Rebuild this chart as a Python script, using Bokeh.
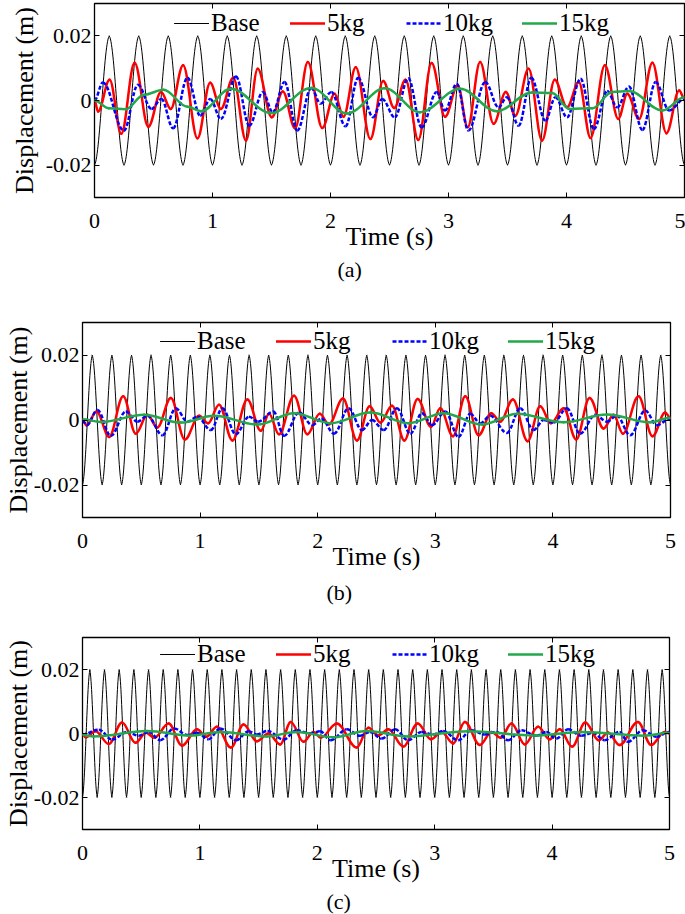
import numpy as np
from bokeh.plotting import figure
from bokeh.models import (Range1d, FixedTicker, LinearAxis, Legend, LegendItem,
                          Title, ColumnDataSource)
from bokeh.embed import file_html
from bokeh.resources import INLINE

FONT = "Liberation Serif"

# ---------------- data (extrema) ----------------
x_ticks = [0, 1, 2, 3, 4, 5]
y_ticks = [-0.02, 0.0, 0.02]
y_tick_labels = {-0.02: "-0.02", 0.0: "0", 0.02: "0.02"}
series_names = ["Base", "5kg", "10kg", "15kg"]
captions = ["(a)", "(b)", "(c)"]

# base excitation extrema (s, m)
base_a_t = [0.0, 0.125, 0.25, 0.375, 0.5, 0.625, 0.75, 0.875,
            1.0, 1.125, 1.25, 1.375, 1.5, 1.625, 1.75, 1.875,
            2.0, 2.125, 2.25, 2.375, 2.5, 2.625, 2.75, 2.875,
            3.0, 3.125, 3.25, 3.375, 3.5, 3.625, 3.75, 3.875,
            4.0, 4.125, 4.25, 4.375, 4.5, 4.625, 4.75, 4.875, 5.0]
base_a_y = [-0.02, 0.02] * 20 + [-0.02]

base_b_t = [0.0, 0.083, 0.167, 0.25, 0.333, 0.417, 0.5, 0.583, 0.667, 0.75, 0.833, 0.917,
            1.0, 1.083, 1.167, 1.25, 1.333, 1.417, 1.5, 1.583, 1.667, 1.75, 1.833, 1.917,
            2.0, 2.083, 2.167, 2.25, 2.333, 2.417, 2.5, 2.583, 2.667, 2.75, 2.833, 2.917,
            3.0, 3.083, 3.167, 3.25, 3.333, 3.417, 3.5, 3.583, 3.667, 3.75, 3.833, 3.917,
            4.0, 4.083, 4.167, 4.25, 4.333, 4.417, 4.5, 4.583, 4.667, 4.75, 4.833, 4.917,
            5.0]
base_b_y = [-0.02, 0.02] * 30 + [-0.02]

base_c_t = [0.0, 0.0625, 0.125, 0.1875, 0.25, 0.3125, 0.375, 0.4375,
            0.5, 0.5625, 0.625, 0.6875, 0.75, 0.8125, 0.875, 0.9375,
            1.0, 1.0625, 1.125, 1.1875, 1.25, 1.3125, 1.375, 1.4375,
            1.5, 1.5625, 1.625, 1.6875, 1.75, 1.8125, 1.875, 1.9375,
            2.0, 2.0625, 2.125, 2.1875, 2.25, 2.3125, 2.375, 2.4375,
            2.5, 2.5625, 2.625, 2.6875, 2.75, 2.8125, 2.875, 2.9375,
            3.0, 3.0625, 3.125, 3.1875, 3.25, 3.3125, 3.375, 3.4375,
            3.5, 3.5625, 3.625, 3.6875, 3.75, 3.8125, 3.875, 3.9375,
            4.0, 4.0625, 4.125, 4.1875, 4.25, 4.3125, 4.375, 4.4375,
            4.5, 4.5625, 4.625, 4.6875, 4.75, 4.8125, 4.875, 4.9375, 5.0]
base_c_y = [-0.02, 0.02] * 40 + [-0.02]

# panel (a)
red_a_t = [0.0, 0.03, 0.128, 0.227, 0.34, 0.456, 0.564, 0.646, 0.751, 0.873, 0.98, 1.071,
           1.176, 1.284, 1.383, 1.502, 1.596, 1.70, 1.808, 1.93, 2.035, 2.11, 2.214, 2.338,
           2.446, 2.54, 2.636, 2.744, 2.857, 2.971, 3.078, 3.163, 3.268, 3.382, 3.486, 3.566,
           3.679, 3.793, 3.9, 4.005, 4.104, 4.204, 4.325, 4.439, 4.515, 4.615, 4.728, 4.847,
           4.955, 5.0]
red_a_y = [0.0, -0.0034, 0.0064, -0.0103, 0.0117, -0.0081, 0.0026, -0.0026, 0.0109, -0.0117,
           0.0055, -0.0026, 0.007, -0.0124, 0.0098, -0.0052, 0.0028, -0.0086, 0.0119, -0.0085,
           0.0021, -0.005, 0.0103, -0.0119, 0.006, -0.0023, 0.0064, -0.0122, 0.0116, -0.005,
           0.0047, -0.0083, 0.0119, -0.0072, 0.0026, -0.0047, 0.0098, -0.0124, 0.0064, -0.0021,
           0.0057, -0.0116, 0.0109, -0.0057, 0.0021, -0.0057, 0.0117, -0.0101, 0.0031, 0.0005]
blue_a_t = [0.0, 0.071, 0.249, 0.368, 0.482, 0.567, 0.666, 0.788, 0.896, 0.981, 1.071, 1.199,
            1.312, 1.426, 1.511, 1.61, 1.718, 1.837, 1.916, 2.007, 2.128, 2.234, 2.361, 2.438,
            2.545, 2.659, 2.772, 2.9, 2.97, 3.07, 3.169, 3.311, 3.424, 3.495, 3.594, 3.702,
            3.821, 3.906, 4.005, 4.119, 4.232, 4.345, 4.43, 4.529, 4.643, 4.756, 4.87, 5.0]
blue_a_y = [0.0, 0.0056, -0.0093, 0.0049, -0.0026, 0.0005, -0.0086, 0.007, -0.0047, 0.0005,
            -0.0057, 0.0074, -0.0078, 0.0026, -0.0036, 0.0057, -0.0093, 0.0039, -0.001, 0.0026,
            -0.008, 0.007, -0.0052, 0.0005, -0.0052, 0.0069, -0.0083, 0.0026, -0.0031, 0.0052,
            -0.0093, 0.0057, -0.0021, 0.001, -0.0078, 0.007, -0.0062, 0.001, -0.0052, 0.0067,
            -0.0088, 0.0029, -0.0021, 0.0043, -0.0091, 0.0057, -0.0031, 0.0005]
green_a_t = [0.0, 0.122, 0.264, 0.42, 0.584, 0.788, 0.901, 1.156, 1.497, 1.837, 2.14, 2.46,
             2.758, 3.098, 3.41, 3.708, 3.878, 4.025, 4.218, 4.388, 4.53, 4.813, 5.0]
green_a_y = [0.0, -0.0024, -0.0027, 0.0018, 0.0033, -0.0019, -0.0033, 0.0036, -0.0039, 0.0039,
             -0.004, 0.0038, -0.0036, 0.0036, -0.0033, 0.0025, 0.0023, -0.0026, -0.0024, 0.0026,
             0.0029, -0.0031, 0.001]

# panel (b)
red_b_t = [0.0, 0.034, 0.119, 0.227, 0.346, 0.453, 0.552, 0.637, 0.751, 0.87, 0.992, 1.068,
           1.161, 1.275, 1.402, 1.516, 1.586, 1.671, 1.799, 1.912, 2.017, 2.096, 2.215, 2.334,
           2.442, 2.533, 2.632, 2.737, 2.85, 2.963, 3.042, 3.15, 3.255, 3.368, 3.476, 3.552,
           3.66, 3.785, 3.892, 3.983, 4.091, 4.198, 4.312, 4.431, 4.516, 4.595, 4.728, 4.847,
           4.955, 5.0]
red_b_y = [0.0, -0.0016, 0.0026, -0.0052, 0.0073, -0.0042, 0.0016, -0.0023, 0.0068, -0.006,
           0.0013, -0.001, 0.0047, -0.0063, 0.0063, -0.0033, 0.0019, -0.0044, 0.0075, -0.0044,
           0.0019, -0.0013, 0.0066, -0.0063, 0.0042, -0.0008, 0.0044, -0.0063, 0.0065, -0.0021,
           0.0036, -0.005, 0.0073, -0.0047, 0.0021, -0.0005, 0.0063, -0.0065, 0.0042, -0.001,
           0.0036, -0.006, 0.0068, -0.0026, 0.0016, -0.0042, 0.0073, -0.005, 0.0023, 0.0005]
blue_b_t = [0.0, 0.037, 0.127, 0.241, 0.368, 0.467, 0.552, 0.68, 0.793, 0.892, 0.977, 1.091,
            1.19, 1.303, 1.416, 1.493, 1.623, 1.714, 1.841, 1.955, 2.031, 2.139, 2.263, 2.377,
            2.462, 2.561, 2.674, 2.788, 2.887, 2.972, 3.085, 3.198, 3.297, 3.382, 3.467, 3.609,
            3.722, 3.836, 3.921, 4.006, 4.119, 4.232, 4.36, 4.459, 4.544, 4.657, 4.785, 4.884,
            5.0]
blue_b_y = [-0.0002, -0.0016, 0.0031, -0.0049, 0.0026, -0.0005, 0.0013, -0.0047, 0.0036,
            -0.0005, 0.001, -0.0031, 0.0036, -0.0044, 0.001, -0.0005, 0.0026, -0.0049, 0.0023,
            -0.0016, 0.0005, -0.0042, 0.0036, -0.0031, 0.0, -0.0031, 0.0036, -0.0042, 0.0021,
            -0.0016, 0.0026, -0.0052, 0.0019, -0.001, 0.0013, -0.004, 0.0036, -0.0031, 0.0,
            -0.0008, 0.0036, -0.0042, 0.0016, -0.0005, 0.0013, -0.0047, 0.0029, -0.0016, 0.0005]
green_b_t = [0.0, 0.156, 0.524, 0.836, 1.119, 1.487, 1.799, 2.11, 2.448, 2.773, 3.071, 3.397,
             3.694, 4.091, 4.459, 4.827, 5.0]
green_b_y = [0.0002, -0.0006, 0.0016, -0.0008, 0.0013, -0.0014, 0.0021, -0.001, 0.0023, -0.001,
             0.0021, -0.0014, 0.0019, -0.0007, 0.0017, -0.0007, 0.0007]

# panel (c)
red_c_t = [0.0, 0.026, 0.111, 0.224, 0.337, 0.451, 0.541, 0.612, 0.734, 0.848, 0.975, 1.054,
           1.145, 1.264, 1.372, 1.485, 1.584, 1.684, 1.774, 1.882, 1.967, 2.029, 2.166, 2.336,
           2.435, 2.52, 2.605, 2.733, 2.855, 2.968, 3.059, 3.158, 3.257, 3.385, 3.484, 3.563,
           3.654, 3.768, 3.881, 3.98, 4.065, 4.17, 4.283, 4.397, 4.476, 4.575, 4.731, 4.844,
           4.958, 5.0]
red_c_y = [-0.0003, -0.0012, 0.0007, -0.0033, 0.0034, -0.0029, 0.0002, -0.0013, 0.0031, -0.0038,
           0.0013, -0.001, 0.0021, -0.0044, 0.0028, -0.0024, 0.0, -0.0034, 0.0036, -0.0026,
           0.0005, -0.0013, 0.0031, -0.0044, 0.0018, -0.0006, 0.0013, -0.0041, 0.0031, -0.0018,
           0.0005, -0.0031, 0.0036, -0.0036, 0.0005, -0.0013, 0.0031, -0.0034, 0.0021, -0.0018,
           0.0013, -0.0041, 0.0034, -0.0021, 0.0003, -0.0036, 0.0036, -0.0036, 0.0005, 0.0]
blue_c_t = [0.0, 0.139, 0.252, 0.38, 0.479, 0.564, 0.663, 0.782, 0.89, 0.975, 1.074, 1.173,
            1.31, 1.414, 1.485, 1.576, 1.712, 1.825, 1.939, 2.024, 2.115, 2.25, 2.364, 2.449,
            2.548, 2.662, 2.775, 2.888, 2.987, 3.072, 3.2, 3.313, 3.427, 3.526, 3.625, 3.739,
            3.866, 3.951, 4.037, 4.136, 4.249, 4.348, 4.447, 4.575, 4.646, 4.773, 4.887, 5.0]
blue_c_y = [-0.0003, 0.0012, -0.0019, 0.0005, -0.0007, 0.0005, -0.0021, 0.0016, -0.0005, 0.0002,
            -0.0018, 0.0016, -0.0021, 0.0007, -0.0003, 0.0008, -0.0019, 0.001, 0.0, 0.0007,
            -0.0021, 0.0013, -0.0007, 0.0005, -0.0016, 0.0013, -0.0021, 0.0005, -0.0003, 0.0008,
            -0.0021, 0.001, -0.0003, 0.0005, -0.0021, 0.001, -0.0007, 0.0005, -0.0016, 0.0013,
            -0.0007, 0.0002, -0.0021, 0.0005, -0.0026, 0.001, -0.001, 0.0005]
green_c_t = [0.0, 0.096, 0.55, 0.918, 1.173, 1.57, 1.825, 2.137, 2.42, 2.775, 3.285, 3.852,
             4.249, 4.787, 5.0]
green_c_y = [-0.0005, -0.0009, 0.0008, -0.0007, 0.0005, -0.0009, 0.0005, -0.0012, 0.0008,
             -0.0009, 0.0007, -0.0006, 0.0005, -0.0007, 0.0002]

# ---------------- styling ----------------
STYLES = [  # color, width, dash, cap
    ("#000000", 1.0, "solid", "round"),
    ("#ff0000", 2.5, "solid", "round"),
    ("#0000ff", 2.5, "4 2", "butt"),
    ("#22a84b", 2.5, "solid", "round"),
]


def curve_source(t, y):
    """Smooth curve through extrema: cubic Bezier segments with flat tangents."""
    t = np.asarray(t, float)
    y = np.asarray(y, float)
    d = np.diff(t) * 0.36
    return ColumnDataSource(dict(x0=t[:-1], y0=y[:-1], x1=t[1:], y1=y[1:],
                                 cx0=t[:-1] + d, cy0=y[:-1], cx1=t[1:] - d, cy1=y[1:]))


def make_panel(height, b_top, b_bottom, b_left, b_right, ylab_standoff, caption, cap_offset,
               cap_standoff, data, leg_xy):
    p = figure(width=685, height=height, x_range=Range1d(0, 5), y_range=Range1d(-0.03, 0.03),
               output_backend="svg", toolbar_location=None, title=None,
               min_border_top=b_top, min_border_bottom=b_bottom,
               min_border_left=b_left, min_border_right=b_right)
    p.xgrid.visible = False
    p.ygrid.visible = False
    p.outline_line_color = "black"
    p.outline_line_width = 1.3
    p.background_fill_color = "white"
    p.border_fill_color = "white"

    xa = p.xaxis[0]
    ya = p.yaxis[0]
    xa.ticker = FixedTicker(ticks=x_ticks, minor_ticks=[])
    ya.ticker = FixedTicker(ticks=y_ticks, minor_ticks=[])
    ya.major_label_overrides = y_tick_labels
    xa.axis_label = "Time (s)"
    ya.axis_label = "Displacement (m)"
    for ax in (xa, ya):
        ax.axis_line_color = None
        ax.major_tick_in = 5
        ax.major_tick_out = 0
        ax.minor_tick_in = 0
        ax.minor_tick_out = 0
        ax.major_tick_line_color = "black"
        ax.major_label_text_font = FONT
        ax.major_label_text_font_size = "22px"
        ax.major_label_text_color = "black"
        ax.axis_label_text_font = FONT
        ax.axis_label_text_font_size = "26px"
        ax.axis_label_text_font_style = "normal"
        ax.axis_label_text_color = "black"
    xa.major_label_standoff = 16
    xa.axis_label_standoff = -9
    ya.major_label_standoff = 3
    ya.axis_label_standoff = ylab_standoff

    # tick marks only (no labels drawn) on the top and right edges (box style)
    for loc, ticks in (("above", x_ticks), ("right", y_ticks)):
        ax = LinearAxis(ticker=FixedTicker(ticks=ticks, minor_ticks=[]),
                        major_label_text_font_size="0px", major_label_text_color=None,
                        major_label_standoff=0,
                        major_tick_in=5, major_tick_out=0, minor_tick_in=0, minor_tick_out=0,
                        axis_line_color=None, major_tick_line_color="black")
        p.add_layout(ax, loc)

    items = []
    for name, (t, y), (color, width, dash, cap) in zip(series_names, data, STYLES):
        r = p.bezier(x0="x0", y0="y0", x1="x1", y1="y1", cx0="cx0", cy0="cy0",
                     cx1="cx1", cy1="cy1", source=curve_source(t, y),
                     line_color=color, line_width=width, line_dash=dash, line_cap=cap)
        items.append(LegendItem(label=name, renderers=[r]))

    legend = Legend(items=items, orientation="horizontal", location=leg_xy,
                    glyph_width=35, glyph_height=20, label_standoff=2, label_width=79,
                    label_height=20, spacing=0, padding=0, margin=0,
                    border_line_color=None, background_fill_alpha=0,
                    label_text_font=FONT, label_text_font_size="25px",
                    label_text_color="black")
    p.add_layout(legend)

    # caption, placed from the frame's left edge
    p.add_layout(Title(text=caption, align="left", offset=cap_offset, standoff=cap_standoff,
                       text_font=FONT, text_font_size="22px", text_font_style="normal",
                       text_color="black"), "below")
    return p


pa = make_panel(300, 3, 103, 94, 1, 4, captions[0], 243, 2,
                [(base_a_t, base_a_y), (red_a_t, red_a_y), (blue_a_t, blue_a_y),
                 (green_a_t, green_a_y)], (80, 160))
pb = make_panel(315, 22, 98, 82, 15, -2, captions[1], 244, 9,
                [(base_b_t, base_b_y), (red_b_t, red_b_y), (blue_b_t, blue_b_y),
                 (green_b_t, green_b_y)], (78, 162))
pc = make_panel(299, 22, 83, 82, 16, -2, captions[2], 244, 2,
                [(base_c_t, base_c_y), (red_c_t, red_c_y), (blue_c_t, blue_c_y),
                 (green_c_t, green_c_y)], (78, 161))

# three independent roots stacked on the page (keeps each panel's own frame position)
with open("out.html", "w") as f:
    f.write(file_html([pa, pb, pc], INLINE))
